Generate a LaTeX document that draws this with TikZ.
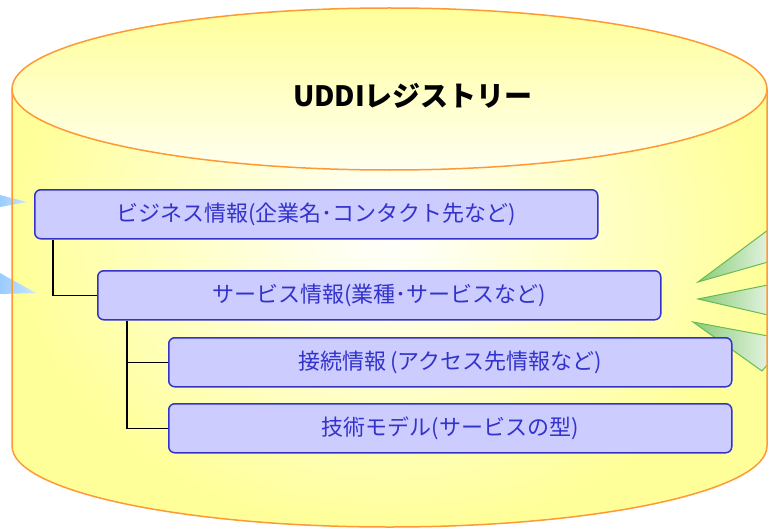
\documentclass[tikz,border=0pt]{standalone}
\usepackage{fontspec}
\setmainfont{Noto Sans CJK JP}
\usetikzlibrary{positioning}
\definecolor{cylyellow}{HTML}{FFFF99}
\definecolor{cyledge}{HTML}{FF9933}
\definecolor{boxfill}{HTML}{CCCCFF}
\definecolor{boxedge}{HTML}{3333CC}
\definecolor{wedgeblue}{HTML}{99CCFF}
\definecolor{wedgegreen}{HTML}{8ACC7A}
\definecolor{wedgegreenedge}{HTML}{66BB55}

\begin{document}
\begin{tikzpicture}[x=1pt,y=-1pt,
  cylline/.style={draw=cyledge, line width=1.5pt},
  infobox/.style={draw=boxedge, fill=boxfill, line width=1.5pt,
    rounded corners=6pt, text=boxedge, anchor=north west,
    minimum height=49pt, inner sep=0pt,
    font=\fontsize{22}{22}\selectfont},
  treeline/.style={draw=black, line width=1.5pt},
  bluewedge/.style={left color=wedgeblue, right color=wedgeblue!50},
  greenwedge/.style={draw=wedgegreenedge, line width=1pt,
    left color=wedgegreen, right color=wedgegreen!25}]

\useasboundingbox (0,0) rectangle (768,532);

% cylinder body
\begin{scope}
\clip (12,89) -- (12,446)
  arc[start angle=180, end angle=360, x radius=377.5pt, y radius=81pt]
  -- (767,89) -- cycle;
\shade[inner color=white, outer color=cylyellow] (12,-70) rectangle (767,532);
\end{scope}

% cylinder top
\shade[top color=cylyellow, bottom color=cylyellow!15]
  (389.5,89) ellipse [x radius=377.5pt, y radius=81pt];

% arrows in from the left
\shade[bluewedge] (0,195) -- (27,202) -- (0,207) -- cycle;
\shade[bluewedge] (0,273) -- (36,293) -- (0,294) -- cycle;

% arrows out to the right
\shadedraw[greenwedge] (698,282) -- (768,230) -- (768,262) -- cycle;
\shadedraw[greenwedge] (698,299) -- (768,285) -- (768,315) -- cycle;
\shadedraw[greenwedge] (693,322) -- (768,336) -- (768,364) -- (762,371) -- cycle;

% outline
\draw[cylline] (12,89) -- (12,446)
  arc[start angle=180, end angle=360, x radius=377.5pt, y radius=81pt]
  -- (767,89);
\draw[cylline] (389.5,89) ellipse [x radius=377.5pt, y radius=81pt];

\node[font=\fontsize{28}{30}\selectfont\bfseries] (registry) at (413,96) {UDDIレジストリー};

% entries
\node[infobox, minimum width=563pt] (biz) at (34,189) {ビジネス情報(企業名･コンタクト先など)};
\node[infobox, minimum width=563pt] (svc) at (97,270) {サービス情報(業種･サービスなど)};
\node[infobox, minimum width=563pt] (conn) at (168,337) {接続情報\hspace{4pt}(アクセス先情報など)};
\node[infobox, minimum width=563pt] (tech) at (168,403) {技術モデル(サービスの型)};

% tree
\draw[treeline] ([xshift=19pt]biz.south west) |- (svc.west);
\draw[treeline] ([xshift=30pt]svc.south west) |- (conn.west);
\draw[treeline] ([xshift=30pt]svc.south west) |- (tech.west);

\end{tikzpicture}
\end{document}
